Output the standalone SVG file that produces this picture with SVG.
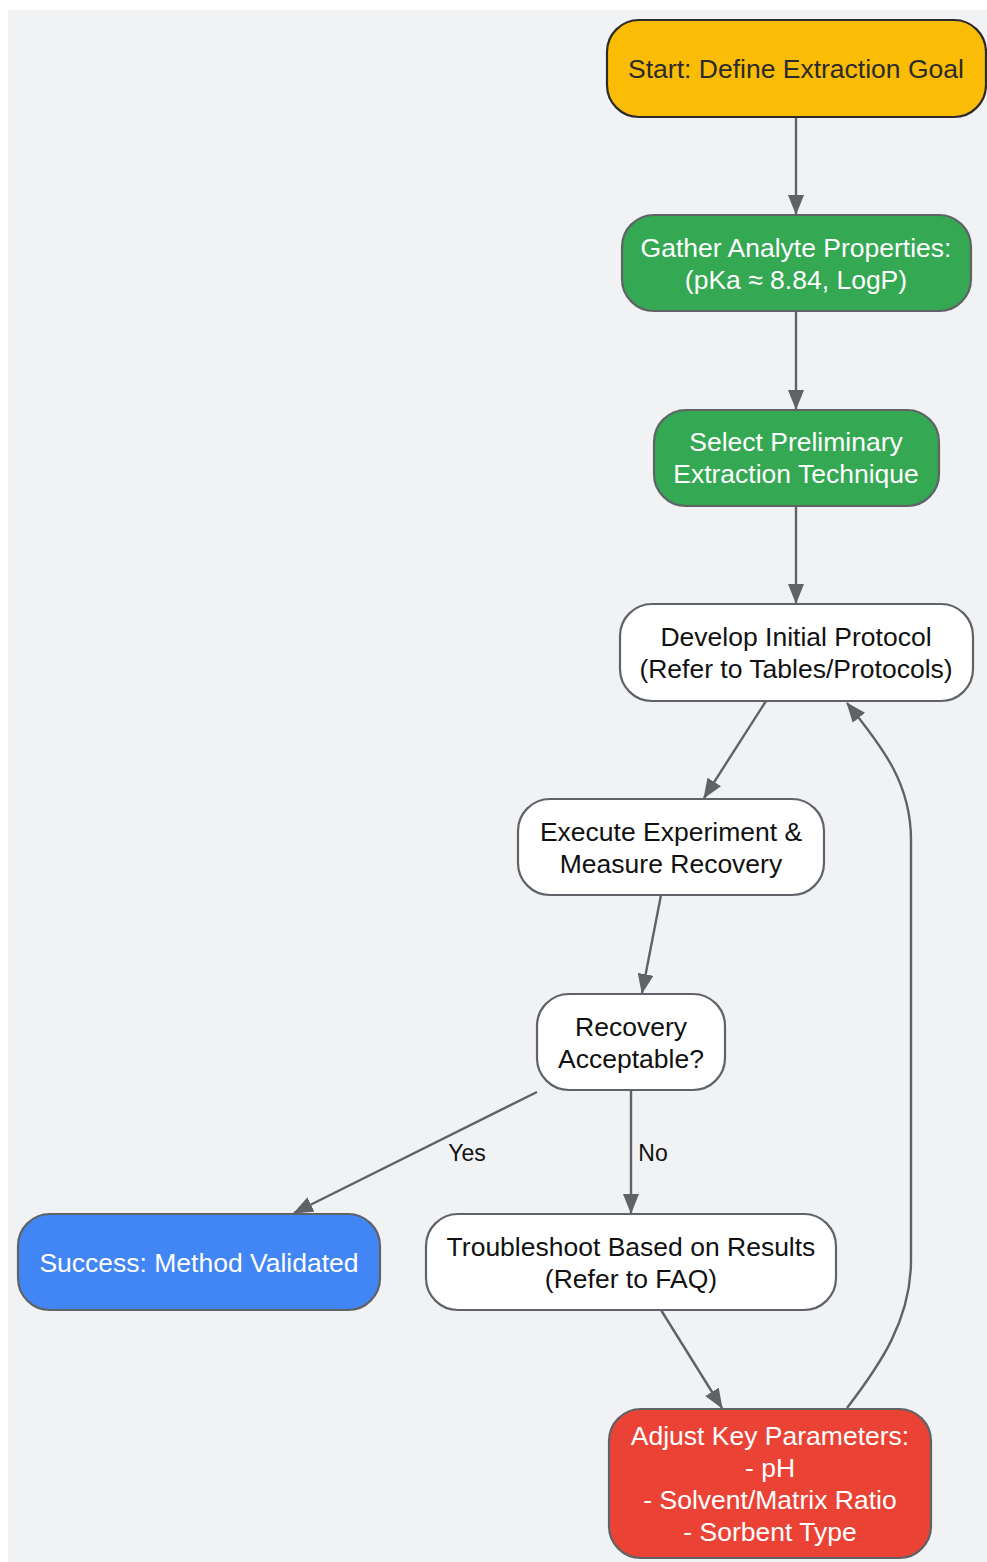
<svg xmlns="http://www.w3.org/2000/svg" width="987" height="1562" viewBox="0 0 987 1562">
<defs>
<marker id="ah" viewBox="0 0 20 16" refX="19" refY="8" markerWidth="20" markerHeight="16" markerUnits="userSpaceOnUse" orient="auto"><path d="M0,0 L20,8 L0,16 z" fill="#5f6368"/></marker>
<style>
.n rect{stroke:#5f6368;stroke-width:2.2}
.t{font-family:"Liberation Sans",Arial,sans-serif;font-size:26.5px;text-anchor:middle}
.w{fill:#ffffff}
.k{fill:#111111}
.e{fill:none;stroke:#5f6368;stroke-width:2.4;marker-end:url(#ah)}
.l{font-family:"Liberation Sans",Arial,sans-serif;font-size:23px;fill:#111111;text-anchor:middle}
</style>
</defs>
<rect x="8" y="10" width="979" height="1552" fill="#f1f2f4"/>
<g id="edges">
<path class="e" d="M796,117 L796,214"/>
<path class="e" d="M796,311 L796,409"/>
<path class="e" d="M796,506 L796,603"/>
<path class="e" d="M766,701 L704,798"/>
<path class="e" d="M661,895 L642,993"/>
<path class="e" d="M537,1092 L294,1213"/>
<path class="e" d="M631,1090 L631,1213"/>
<path class="e" d="M661,1310 L722,1408"/>
<path class="e" d="M847,1408 C880,1365 911,1320 911,1260 L911,840 C911,785 885,750 847,703"/>
<text class="l" x="467" y="1161">Yes</text>
<text class="l" x="653" y="1161">No</text>
</g>
<g id="start" class="n"><rect x="607" y="20" width="379" height="97" rx="32" fill="#fbbc05" style="stroke:#2b2b2b"/><text class="t" x="796" y="78" fill="#2b2b2b">Start: Define Extraction Goal</text></g>
<g id="gather" class="n"><rect x="622" y="215" width="349" height="96" rx="32" fill="#34a853"/><text class="t w" x="796" y="257">Gather Analyte Properties:</text><text class="t w" x="796" y="289">(pKa ≈ 8.84, LogP)</text></g>
<g id="select" class="n"><rect x="654" y="410" width="285" height="96" rx="32" fill="#34a853"/><text class="t w" x="796" y="451">Select Preliminary</text><text class="t w" x="796" y="483">Extraction Technique</text></g>
<g id="develop" class="n"><rect x="620" y="604" width="353" height="97" rx="32" fill="#ffffff"/><text class="t k" x="796" y="646">Develop Initial Protocol</text><text class="t k" x="796" y="678">(Refer to Tables/Protocols)</text></g>
<g id="execute" class="n"><rect x="518" y="799" width="306" height="96" rx="32" fill="#ffffff"/><text class="t k" x="671" y="841">Execute Experiment &amp;</text><text class="t k" x="671" y="873">Measure Recovery</text></g>
<g id="recovery" class="n"><rect x="537" y="994" width="188" height="96" rx="32" fill="#ffffff"/><text class="t k" x="631" y="1036">Recovery</text><text class="t k" x="631" y="1068">Acceptable?</text></g>
<g id="success" class="n"><rect x="18" y="1214" width="362" height="96" rx="32" fill="#4285f4"/><text class="t w" x="199" y="1272">Success: Method Validated</text></g>
<g id="troubleshoot" class="n"><rect x="426" y="1214" width="410" height="96" rx="32" fill="#ffffff"/><text class="t k" x="631" y="1256">Troubleshoot Based on Results</text><text class="t k" x="631" y="1288">(Refer to FAQ)</text></g>
<g id="adjust" class="n"><rect x="609" y="1409" width="322" height="149" rx="32" fill="#ea4335"/><text class="t w" x="770" y="1445">Adjust Key Parameters:</text><text class="t w" x="770" y="1477">- pH</text><text class="t w" x="770" y="1509">- Solvent/Matrix Ratio</text><text class="t w" x="770" y="1541">- Sorbent Type</text></g>
</svg>
